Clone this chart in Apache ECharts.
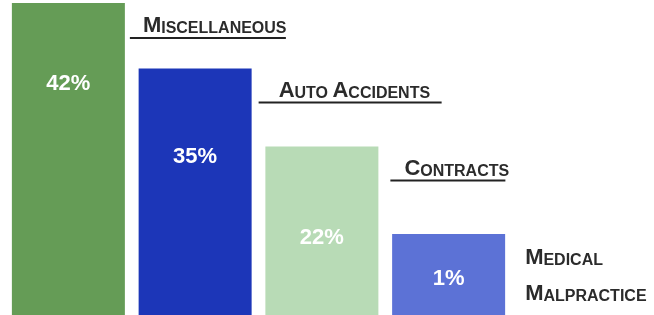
<!DOCTYPE html>
<html>
<head>
<meta charset="utf-8">
<script src="https://cdn.jsdelivr.net/npm/echarts@6/dist/echarts.min.js"></script>
<style>
  html, body { margin: 0; padding: 0; background: #fff; }
  #chart { width: 654px; height: 315px; }
</style>
</head>
<body>
<div id="chart"></div>
<script>
  // categories and values
  var categories = ['Miscellaneous', 'Auto Accidents', 'Contracts', 'Medical\nMalpractice']
  var percents = [42, 35, 22, 1]
  // the bars are not drawn to scale in the original, so keep their shown heights (0-100)
  var barHeights = [100, 79, 54, 26]
  var colors = ['#659c56', '#1c36b8', '#b8dbb6', '#5c72d6']

  // label placement (pixels, relative to each bar's top-left)
  var pctY = [81, 88, 91, 45]
  var nameOffset = [[118, 12], [120, 11], [125, 11], [133, -1]]
  var nameIndent = [13, 20, 14, 0]
  var underlineW = [156, 183, 115, 0]

  // small caps: first letter of each word big, the rest small
  function smallCaps (text) {
    return text.split('\n').map(function (line) {
      return line.split(' ').map(function (w) {
        return '{a|' + w.charAt(0).toUpperCase() + '}{b|' + w.slice(1).toUpperCase() + '}'
      }).join('{b| }')
    }).join('\n')
  }

  var chart = echarts.init(document.getElementById('chart'))

  var pctData = percents.map(function (p, i) {
    return {
      value: barHeights[i],
      itemStyle: { color: colors[i] },
      label: {
        show: true,
        position: ['50%', pctY[i]],
        align: 'center',
        verticalAlign: 'middle',
        formatter: p + '%',
        color: '#fff',
        fontSize: 22,
        fontWeight: 'bold',
        fontFamily: 'Liberation Sans'
      }
    }
  })

  var nameData = categories.map(function (c, i) {
    var txt = smallCaps(c)
    if (nameIndent[i]) txt = '{p|}' + txt
    if (underlineW[i]) txt += '\n{u' + i + '|}'
    var lh = underlineW[i] ? 22 : 36
    var rich = {
      p: { width: nameIndent[i], height: 1 },
      a: { fontSize: 22, fontWeight: 'bold', color: '#2b2b2b', fontFamily: 'Liberation Sans', lineHeight: lh, verticalAlign: 'bottom' },
      b: { fontSize: 16, fontWeight: 'bold', color: '#2b2b2b', fontFamily: 'Liberation Sans', lineHeight: lh - 4, verticalAlign: 'bottom' }
    }
    rich['u' + i] = { width: underlineW[i], height: 2, lineHeight: 2, backgroundColor: '#222' }
    return {
      value: barHeights[i],
      label: {
        show: true,
        position: nameOffset[i],
        align: 'left',
        verticalAlign: 'top',
        formatter: txt,
        rich: rich
      }
    }
  })

  var option = {
    animation: false,
    grid: { left: 5, right: 142, top: 3, bottom: 0 },
    xAxis: {
      type: 'category',
      data: categories,
      show: false
    },
    yAxis: {
      type: 'value',
      min: 0,
      max: 100,
      show: false
    },
    series: [{
      type: 'bar',
      barWidth: 113,
      data: pctData
    }, {
      type: 'bar',
      barWidth: 113,
      barGap: '-100%',
      itemStyle: { color: 'rgba(0,0,0,0)' },
      data: nameData
    }]
  }
  chart.setOption(option)
</script>
</body>
</html>
